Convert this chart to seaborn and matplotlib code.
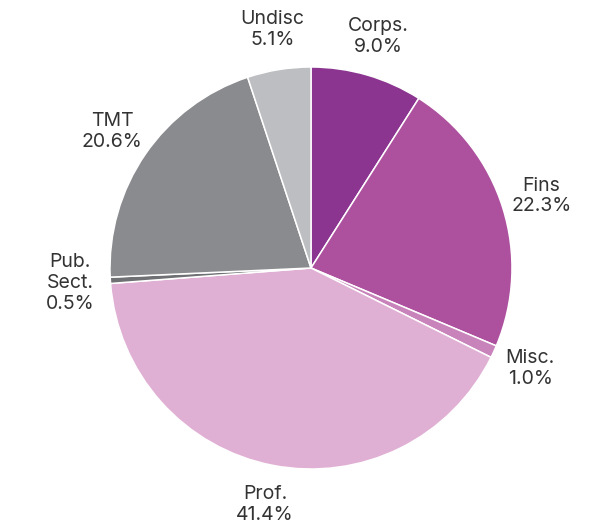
import numpy as np
import matplotlib
matplotlib.use("Agg")
import matplotlib.pyplot as plt
import seaborn as sns

# sector shares in %, clockwise from 12 o'clock
sectors = ["Corps.", "Fins", "Misc.", "Prof.", "Pub.\nSect.", "TMT", "Undisc"]
shares = [9.0, 22.3, 1.0, 41.4, 0.5, 20.6, 5.1]
colors = ["#8B3591", "#AD519E", "#C883BB", "#E0B0D4", "#6F7073", "#8A8B8E", "#BDBEC1"]

sns.set_theme(style="white")
plt.rcParams["font.family"] = ["Inter", "DejaVu Sans"]

fig = plt.figure(figsize=(6.04, 5.2), dpi=100)
# pie centre ~ (311, 268) px, radius ~201 px
r_px = 201
span = 1.25 * r_px
ax = fig.add_axes([(311 - span) / 604, (520 - 268 - span) / 520,
                   2 * span / 604, 2 * span / 520])

labels = [f"{s}\n{v:.1f}%" for s, v in zip(sectors, shares)]
wedges, texts = ax.pie(
    shares, labels=labels, colors=colors, startangle=90, counterclock=False,
    labeldistance=1.2, radius=1.0,
    wedgeprops=dict(edgecolor="white", linewidth=1.1),
    textprops=dict(fontsize=14, color="#333333", linespacing=1.2),
)
for t in texts:
    t.set_ha("center")
    t.set_va("center")

ax.set_xlim(-1.25, 1.25)
ax.set_ylim(-1.25, 1.25)
ax.set_aspect("equal")
ax.axis("off")

fig.savefig("out.png", dpi=100)
